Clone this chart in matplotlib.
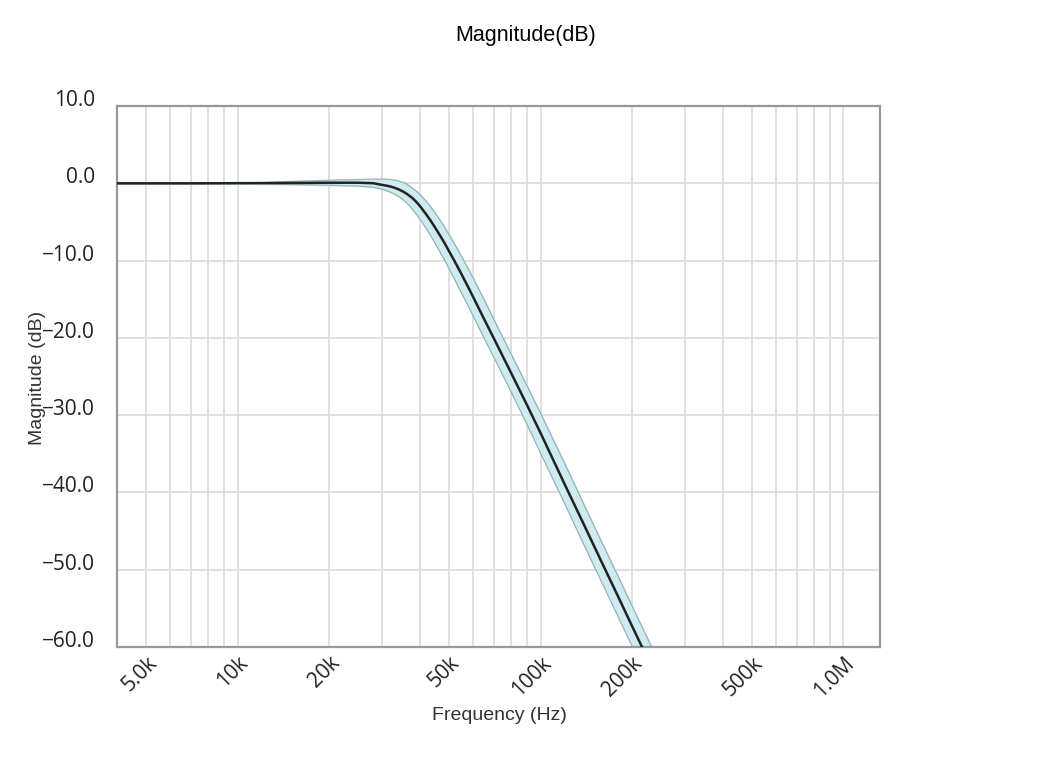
import matplotlib
matplotlib.use("Agg")
import matplotlib.pyplot as plt
from matplotlib.ticker import FixedLocator, NullFormatter

# frequency points (Hz) and magnitude (dB)
freq = [4000, 5000, 7000, 10000, 12000, 15000, 20000, 25000, 28000,
        30000, 31000, 32000, 33000, 34000, 35000, 36000, 37000, 38000, 39000,
        40000, 41000, 42000, 43000, 44000, 45000, 46000, 47000, 48000,
        50000, 52000, 55000, 58000, 60000, 65000, 70000, 75000, 80000, 90000,
        100000, 120000, 140000, 160000, 180000, 200000, 220000, 240000]
mag = [0.0, 0.0, 0.0, 0.02, 0.03, 0.05, 0.08, 0.08, 0.02,
       -0.2, -0.3, -0.42, -0.58, -0.78, -1.02, -1.3, -1.63, -2.0, -2.45,
       -2.95, -3.5, -4.05, -4.62, -5.2, -5.8, -6.4, -7.0, -7.6,
       -8.85, -10.05, -11.85, -13.6, -14.75, -17.5, -20.0, -22.35, -24.55, -28.6,
       -32.3, -38.9, -44.4, -49.2, -53.4, -57.2, -60.6, -63.7]
# tolerance band (upper / lower)
mag_hi = [0.03, 0.03, 0.04, 0.06, 0.1, 0.25, 0.4, 0.5, 0.55,
          0.55, 0.55, 0.5, 0.42, 0.3, 0.15, -0.05, -0.35, -0.7, -1.05,
          -1.45, -1.9, -2.35, -2.85, -3.35, -3.9, -4.45, -5.0, -5.55,
          -6.7, -7.85, -9.55, -11.2, -12.3, -15.0, -17.55, -19.9, -22.1, -26.1,
          -29.75, -36.2, -41.8, -46.6, -50.8, -54.6, -58.0, -61.1]
mag_lo = [-0.03, -0.03, -0.04, -0.05, -0.08, -0.15, -0.25, -0.35, -0.5,
          -0.75, -0.95, -1.15, -1.4, -1.7, -2.05, -2.45, -2.95, -3.5, -4.05,
          -4.65, -5.26, -5.9, -6.52, -7.18, -7.85, -8.5, -9.15, -9.8,
          -11.1, -12.4, -14.3, -16.05, -17.2, -19.95, -22.45, -24.8, -27.0, -31.1,
          -34.9, -41.4, -47.0, -51.8, -56.0, -59.8, -63.2, -66.3]

xticks = [5e3, 1e4, 2e4, 5e4, 1e5, 2e5, 5e5, 1e6]
xticklabels = ["5.0k", "10k", "20k", "50k", "100k", "200k", "500k", "1.0M"]
yticks = [10, 0, -10, -20, -30, -40, -50, -60]

fig = plt.figure(figsize=(10.46, 7.63), dpi=100)
ax = fig.add_axes([0.1119, 0.152, 0.7294, 0.709])

ax.fill_between(freq, mag_lo, mag_hi, color="#cdebf0", zorder=2)
ax.plot(freq, mag_hi, color="#8fa3a6", lw=0.9, alpha=0.8, zorder=3)
ax.plot(freq, mag_lo, color="#8fa3a6", lw=0.9, alpha=0.8, zorder=3)
ax.plot(freq, mag, color="#222222", lw=1.8, zorder=4)

ax.set_xscale("log")
ax.set_xlim(4000, 1.32e6)
ax.set_ylim(-60, 10)

# gridlines at every integer multiple inside each decade
grid_x = [m * 10 ** d for d in range(3, 7) for m in range(1, 10)
          if 4000 <= m * 10 ** d <= 1.32e6]
ax.xaxis.set_major_locator(FixedLocator(xticks))
ax.xaxis.set_minor_locator(FixedLocator(grid_x))
ax.xaxis.set_minor_formatter(NullFormatter())
ax.set_xticklabels(xticklabels)
ax.set_yticks(yticks)
ax.set_yticklabels(["%.1f" % v if v >= 0 else "\u2212%.1f" % -v for v in yticks])

ax.grid(True, which="both", axis="x", color="#dadada", lw=1.2, zorder=0)
ax.grid(True, which="major", axis="y", color="#dadada", lw=1.2, zorder=0)
ax.set_axisbelow(True)

ax.tick_params(which="both", length=0)
ax.tick_params(axis="y", pad=16, labelsize=15)
ax.tick_params(axis="x", pad=4, labelsize=15)
for lab in ax.get_yticklabels():
    lab.set_fontfamily(["Open Sans", "DejaVu Sans"])
    lab.set_color("#222222")
    lab.set_verticalalignment("baseline")
for lab in ax.get_xticklabels():
    lab.set_fontfamily(["Open Sans", "DejaVu Sans"])
    lab.set_color("#222222")
    lab.set_rotation(45)
    lab.set_ha("right")
    lab.set_va("top")
    lab.set_rotation_mode("anchor")

for s in ax.spines.values():
    s.set_color("#999999")
    s.set_linewidth(1.6)

fig.text(526 / 1046, 1 - 35 / 763, "Magnitude(dB)", ha="center", va="center",
         fontsize=15.5, family="Liberation Sans")
fig.text(499 / 1046, 1 - 715 / 763, "Frequency (Hz)", ha="center", va="center",
         fontsize=14, family="Liberation Sans", color="#333333")
fig.text(37 / 1046, 1 - 378 / 763, "Magnitude (dB)", ha="center", va="center",
         rotation=90, fontsize=14, family="Liberation Sans", color="#333333")

fig.savefig("out.png", dpi=100)
